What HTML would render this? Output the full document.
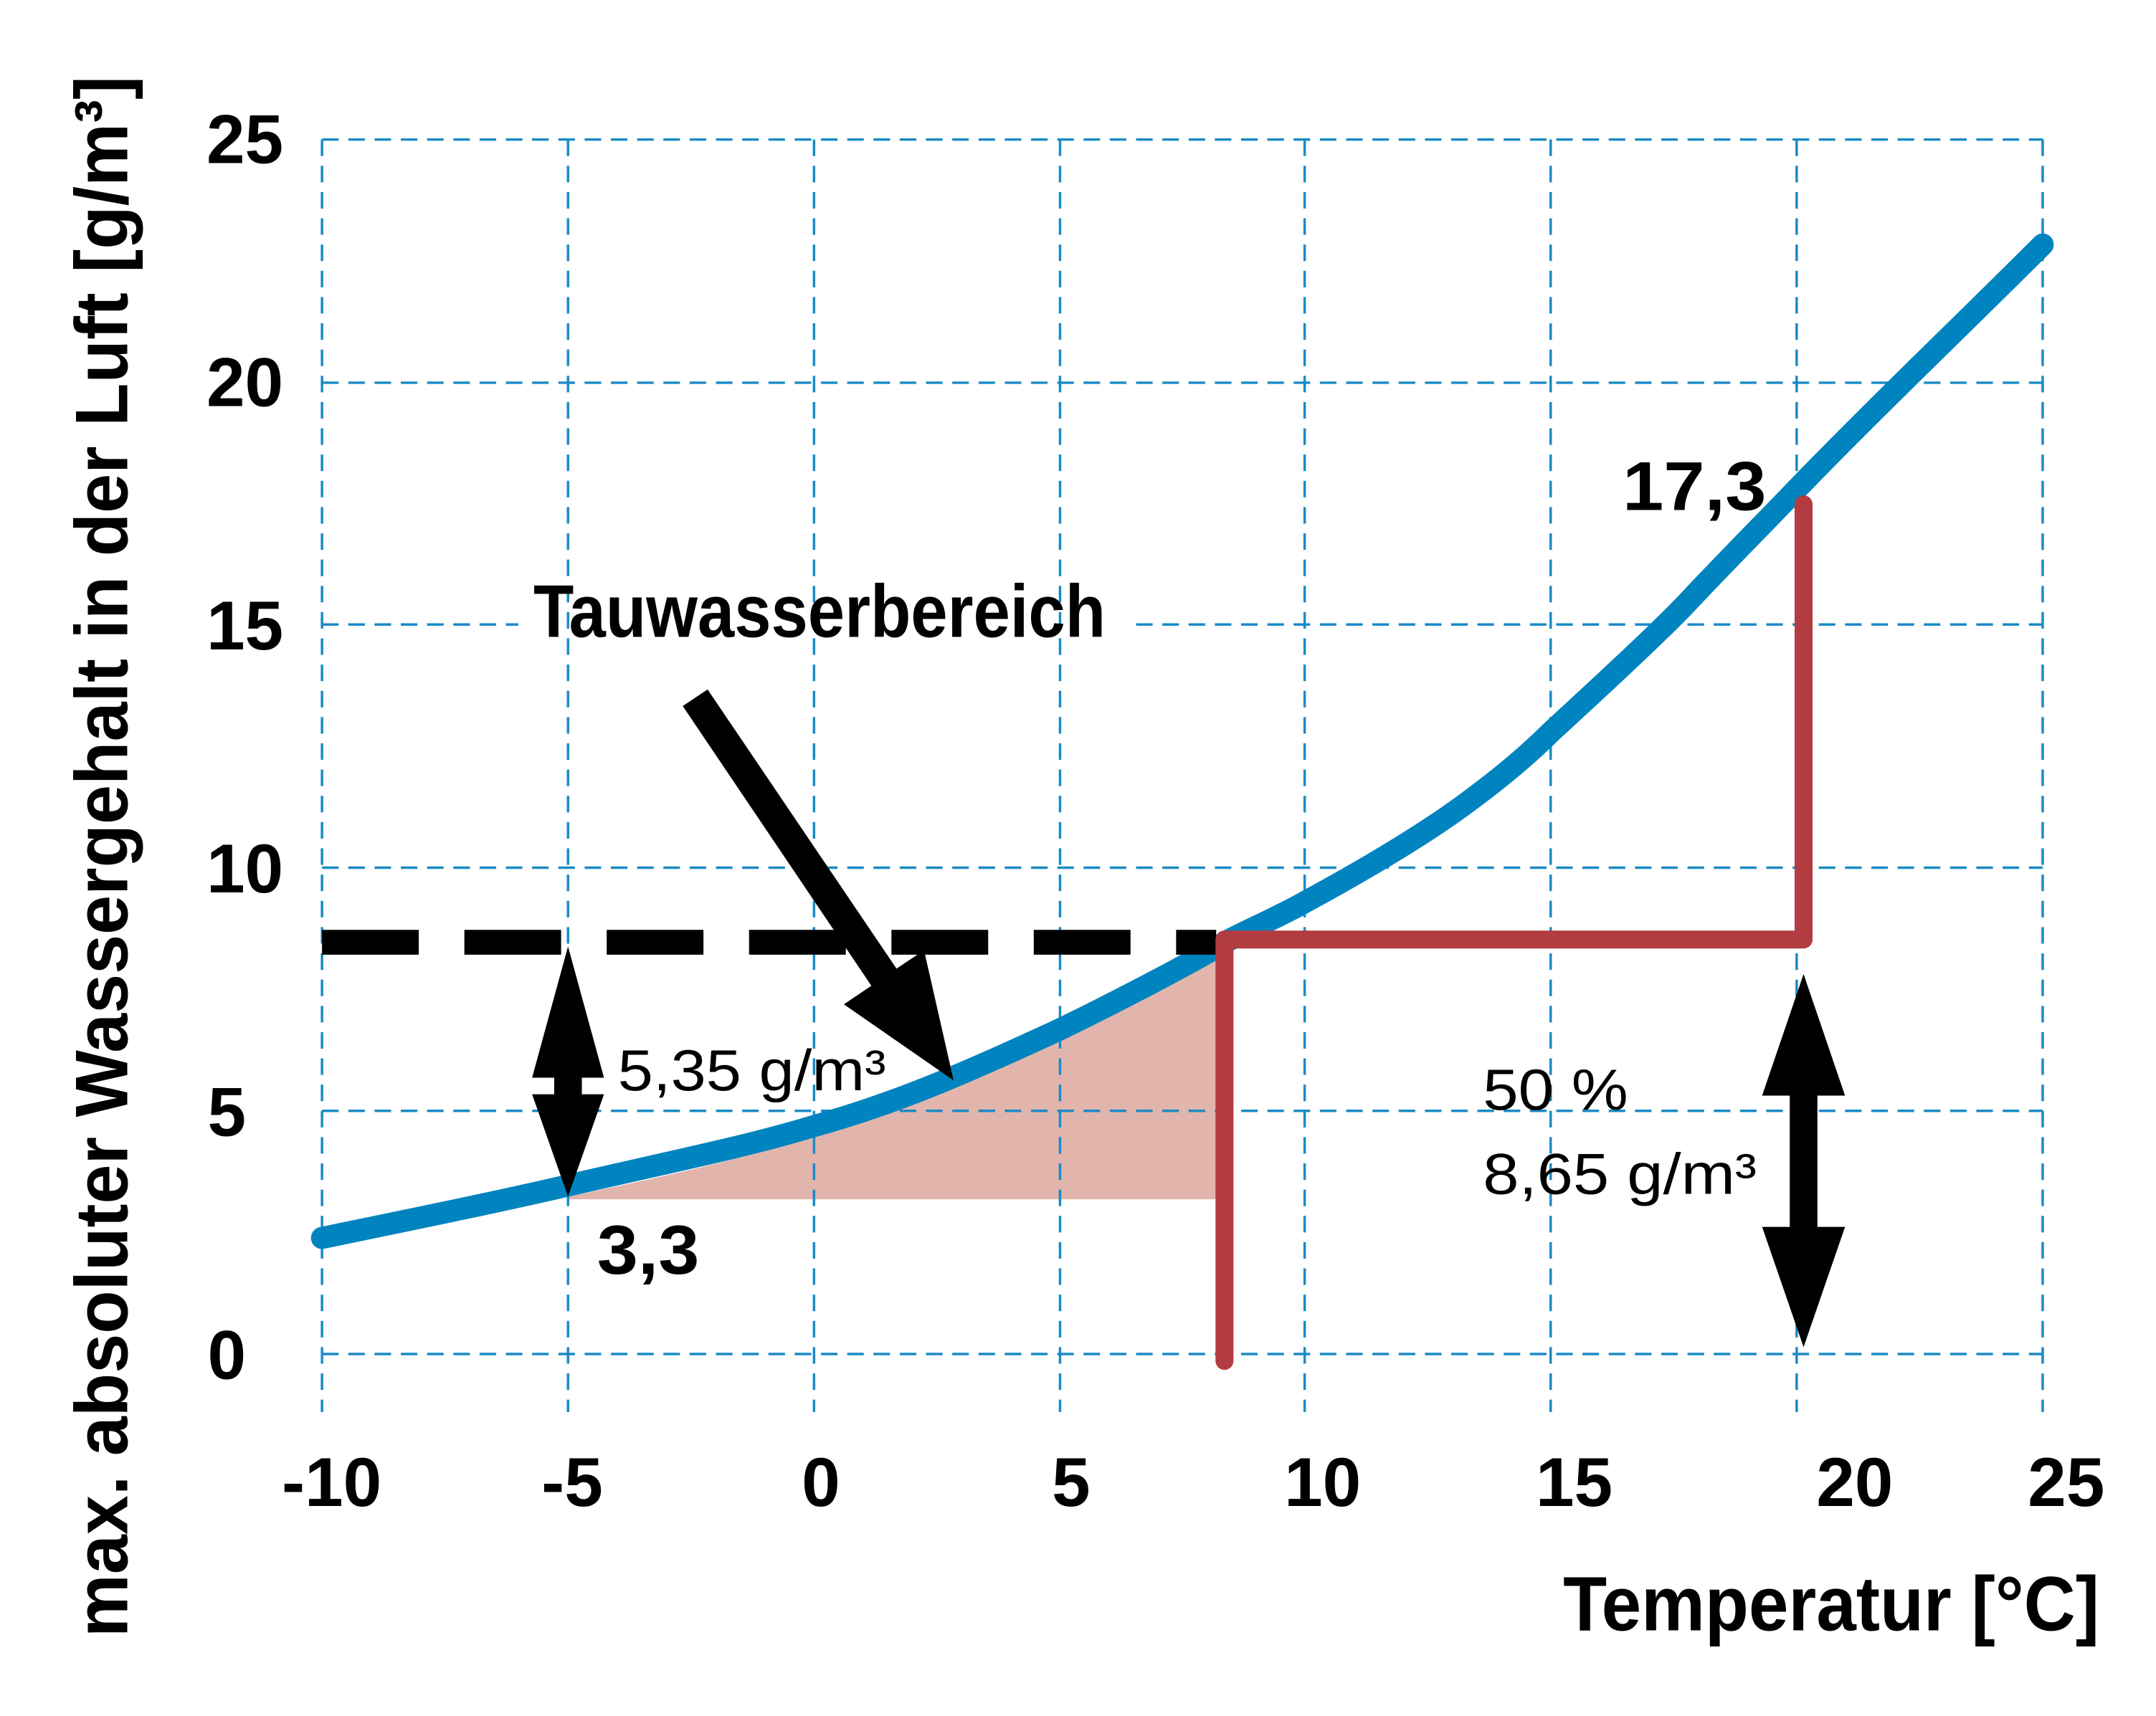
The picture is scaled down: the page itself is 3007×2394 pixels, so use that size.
<!DOCTYPE html>
<html><head><meta charset="utf-8"><style>
html,body{margin:0;padding:0;background:#fff;}
svg{display:block;}
text{font-family:"Liberation Sans Narrow","Liberation Sans",sans-serif;fill:#000;font-weight:bold;}
text.n{font-weight:normal;}
</style></head><body>
<svg width="3007" height="2394" viewBox="0 0 1560 1242" preserveAspectRatio="none" xmlns="http://www.w3.org/2000/svg">
<rect width="1560" height="1242" fill="#fff"/>
<path d="M411,866 C480,852 540,838 589,822 C650,802 700,784 767,750 C810,730 850,708 880,692 L880,868 L411,868 Z" fill="#e1b5ac"/>
<g stroke="#1a8ac6" stroke-width="1.8" stroke-dasharray="12 7" fill="none">
<line x1="233" y1="101" x2="233" y2="1022"/>
<line x1="411" y1="101" x2="411" y2="1022"/>
<line x1="589" y1="101" x2="589" y2="1022"/>
<line x1="767" y1="101" x2="767" y2="1022"/>
<line x1="944" y1="101" x2="944" y2="1022"/>
<line x1="1122" y1="101" x2="1122" y2="1022"/>
<line x1="1300" y1="101" x2="1300" y2="1022"/>
<line x1="1478" y1="101" x2="1478" y2="1022"/>
<line x1="233" y1="101" x2="1478" y2="101"/>
<line x1="233" y1="277" x2="1478" y2="277"/>
<line x1="233" y1="452" x2="375" y2="452"/>
<line x1="822" y1="452" x2="1478" y2="452"/>
<line x1="233" y1="628" x2="1478" y2="628"/>
<line x1="233" y1="804" x2="1478" y2="804"/>
<line x1="233" y1="980" x2="1478" y2="980"/>
</g>
<path d="M233,896 C300,882 360,870 411,858 C480,842 540,830 589,815 C650,798 700,776 767,745 C810,724 860,698 890,680 C910,670 930,661 944,653 C990,628 1030,604 1060,582 C1090,560 1110,542 1122,530 C1160,495 1200,458 1220,437 C1250,405 1280,375 1300,354 C1360,292 1420,235 1478,177" fill="none" stroke="#0084c0" stroke-width="16" stroke-linecap="round"/>
<line x1="233" y1="682" x2="880" y2="682" stroke="#000" stroke-width="18" stroke-dasharray="70 33"/>
<path d="M886,985 L886,680 L1305,680 L1305,365" fill="none" stroke="#b33c40" stroke-width="13" stroke-linecap="round" stroke-linejoin="round"/>
<path d="M411,685 L437,780 L421,780 L421,792 L437,792 L411,866 L385,792 L401,792 L401,780 L385,780 Z" fill="#000"/>
<path d="M1305,705 L1335,793 L1315,793 L1315,888 L1335,888 L1305,975 L1275,888 L1295,888 L1295,793 L1275,793 Z" fill="#000"/>
<path d="M494,511 L512,499 L648.7,701.1 L668.6,687.7 L690,782 L610.6,726.9 L630.5,713.5 Z" fill="#000"/>
<g font-size="50">
<text x="205" y="118" text-anchor="end">25</text>
<text x="205" y="294" text-anchor="end">20</text>
<text x="205" y="470" text-anchor="end">15</text>
<text x="205" y="646" text-anchor="end">10</text>
<text x="178" y="822" text-anchor="end">5</text>
<text x="178" y="998" text-anchor="end">0</text>
<text x="240" y="1090" text-anchor="middle">-10</text>
<text x="414" y="1090" text-anchor="middle">-5</text>
<text x="594" y="1090" text-anchor="middle">0</text>
<text x="775" y="1090" text-anchor="middle">5</text>
<text x="957" y="1090" text-anchor="middle">10</text>
<text x="1139" y="1090" text-anchor="middle">15</text>
<text x="1342" y="1090" text-anchor="middle">20</text>
<text x="1495" y="1090" text-anchor="middle">25</text>
</g>
<text x="1131" y="1180" font-size="56" textLength="388" lengthAdjust="spacingAndGlyphs">Temperatur [°C]</text>
<text transform="translate(92,1185) rotate(-90)" font-size="54" textLength="1130" lengthAdjust="spacingAndGlyphs">max. absoluter Wassergehalt in der Luft [g/m³]</text>
<text x="386" y="461" font-size="54" textLength="414" lengthAdjust="spacingAndGlyphs">Tauwasserbereich</text>
<text x="1174" y="369" font-size="50" textLength="104" lengthAdjust="spacingAndGlyphs">17,3</text>
<text x="432" y="922" font-size="50" textLength="74" lengthAdjust="spacingAndGlyphs">3,3</text>
<text class="n" x="447" y="789" font-size="42" textLength="194" lengthAdjust="spacingAndGlyphs">5,35 g/m³</text>
<text class="n" x="1073" y="803" font-size="42" textLength="105" lengthAdjust="spacingAndGlyphs">50 %</text>
<text class="n" x="1073" y="864" font-size="42" textLength="198" lengthAdjust="spacingAndGlyphs">8,65 g/m³</text>
</svg>
</body></html>
